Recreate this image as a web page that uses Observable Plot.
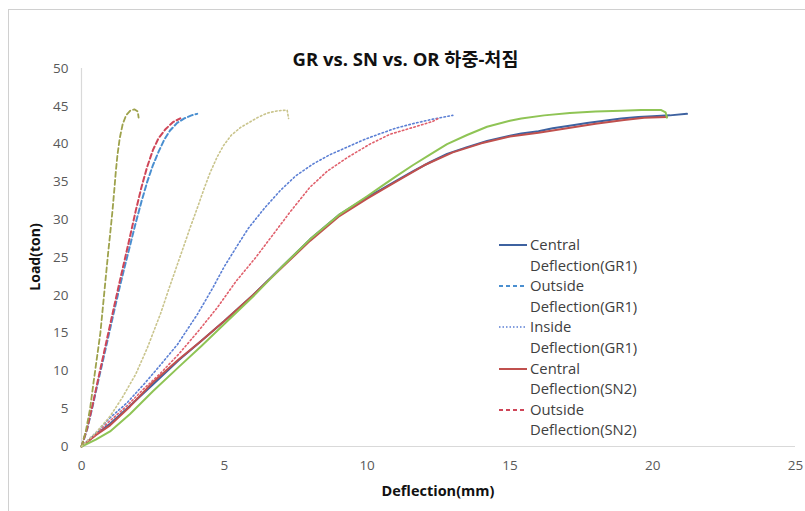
<!DOCTYPE html>
<html>
<head>
<meta charset="utf-8">
<script src="https://cdn.jsdelivr.net/npm/d3@7"></script>
<script src="https://cdn.jsdelivr.net/npm/@observablehq/plot@0.6"></script>
<style>
  html, body { margin: 0; padding: 0; background: #fff; }
  #wrap { position: relative; width: 805px; height: 511px; overflow: hidden; font-family: "Open Sans", "Noto Sans", sans-serif; }
  #frame { position: absolute; left: 8px; top: 9px; width: 830px; height: 540px; border: 1px solid #d0d0d0; }
  #plot { position: absolute; left: 0; top: 0; }
  #title { position: absolute; left: 0; width: 811px; top: 45px; text-align: center; font-family: "Open Sans", "Noto Sans CJK KR", sans-serif; font-weight: bold; font-size: 18.5px; color: #111; }
  #ylab { position: absolute; left: 34px; top: 257px; transform: translate(-50%, -50%) rotate(-90deg); font-weight: bold; font-size: 14px; color: #111; white-space: nowrap; }
  #xlab { position: absolute; left: 438px; top: 481px; transform: translateX(-50%); font-weight: bold; font-size: 14.5px; color: #111; white-space: nowrap; }
  #legend { position: absolute; left: 499px; top: 234px; font-size: 14.8px; color: #404040; line-height: 20.6px; }
  .item { position: relative; padding-left: 31px; }
  .item svg { position: absolute; left: 0; top: 6px; }
</style>
</head>
<body>
<div id="wrap">
  <div id="frame"></div>
  <div id="plot"></div>
  <div id="title">GR vs. SN vs. OR 하중-처짐</div>
  <div id="ylab">Load(ton)</div>
  <div id="xlab">Deflection(mm)</div>
  <div id="legend"></div>
</div>
<script>
// ---- data: [deflection (mm), load (ton)] ----
const centralGR1 = [[0,0],[0.5,1.6],[1,3.0],[1.7,5.4],[2.5,8.2],[3.4,11.4],[4.2,14],[5,16.6],[6,20],[7,23.7],[8,27.4],[9,30.6],[10,33],[10.5,34],[11,35.1],[11.6,36.4],[12.2,37.6],[12.8,38.7],[13.5,39.6],[14.2,40.4],[15,41.1],[15.4,41.4],[16,41.7],[16.5,42.1],[17.2,42.5],[17.7,42.8],[18.3,43.1],[18.9,43.4],[19.5,43.6],[20,43.7],[20.6,43.8],[21.2,44.0]];
const outsideGR1 = [[0,0],[0.2,2.3],[0.4,5.5],[0.6,8.9],[0.85,13],[1.1,17.2],[1.3,20.5],[1.5,23.6],[1.7,26.6],[1.9,29.6],[2.1,32.4],[2.3,35.0],[2.5,37.2],[2.7,39.0],[2.9,40.6],[3.1,41.8],[3.35,42.8],[3.6,43.4],[3.85,43.8],[4.05,44.0]];
const insideGR1 = [[0,0],[0.5,1.8],[1.0,3.8],[1.6,5.8],[2.2,8.3],[2.7,10.5],[3.36,13.5],[4.06,17.5],[4.6,21],[5.0,23.8],[5.46,26.6],[5.85,28.9],[6.4,31.5],[6.97,33.9],[7.5,35.8],[8.12,37.4],[8.7,38.6],[9.3,39.6],[9.9,40.6],[10.47,41.4],[11.0,42.1],[11.6,42.7],[12.3,43.3],[13.0,43.8]];
const centralSN2 = [[0,0],[0.5,1.5],[1,2.8],[1.7,5.3],[2.5,8.5],[3.4,11.5],[4.2,14],[5,16.6],[6,20],[7,23.6],[8,27.2],[9,30.4],[10,32.8],[11,35],[12,37.2],[13,38.9],[14,40.1],[15,41],[16,41.5],[17,42.1],[18,42.7],[19,43.2],[19.7,43.5],[20.5,43.6]];
const outsideSN2 = [[0,0],[0.2,2.4],[0.4,5.7],[0.6,9.2],[0.85,13.5],[1.1,17.8],[1.3,21.2],[1.5,24.5],[1.7,27.8],[1.9,31.2],[2.1,34.3],[2.3,37.0],[2.5,39.2],[2.7,40.8],[2.95,42.0],[3.2,42.9],[3.46,43.4]];
const insideSN2 = [[0,0],[0.5,1.6],[1.0,3.4],[1.6,5.4],[2.2,7.7],[2.77,9.7],[3.4,12.2],[4.1,15.3],[4.76,18.4],[5.4,21.8],[6.1,25],[6.7,28],[7.3,31],[8.0,34.3],[8.6,36.4],[9.3,38.2],[10.1,40],[10.8,41.3],[11.6,42.2],[12.3,43.0],[12.5,43.4]];
const centralOR = [[0,0],[0.5,0.9],[1,2.0],[1.7,4.3],[2.5,7.3],[3.4,10.5],[4.2,13.3],[5,16.2],[6,19.8],[7,23.7],[8,27.4],[9,30.6],[10,33.1],[10.5,34.4],[11,35.7],[11.6,37.2],[12.2,38.6],[12.8,40.0],[13.5,41.2],[14.2,42.3],[15,43.1],[15.4,43.4],[16.2,43.8],[17.1,44.1],[18,44.3],[18.9,44.4],[19.6,44.5],[20.3,44.5],[20.45,44.2],[20.5,43.5]];
const outsideOR = [[0,0],[0.15,2],[0.3,5],[0.43,8.7],[0.55,12],[0.66,15],[0.75,18.5],[0.84,22],[0.93,25.5],[1.0,28],[1.08,31],[1.15,34],[1.2,36.3],[1.26,38.6],[1.34,40.8],[1.44,42.6],[1.56,43.8],[1.7,44.4],[1.85,44.6],[1.97,44.3],[2.0,43.5]];
const insideOR = [[0,0],[0.5,1.8],[1.0,4.0],[1.4,6.3],[1.89,9.5],[2.3,13],[2.77,17.6],[3.1,21.3],[3.47,25.3],[3.8,28.9],[4.06,31.6],[4.3,34.2],[4.5,36.2],[4.75,38.3],[4.97,39.8],[5.25,41.2],[5.57,42.2],[6.16,43.5],[6.5,44.1],[6.86,44.4],[7.2,44.5],[7.25,43.4]];

const xTicks = [0,5,10,15,20,25];
const yTicks = [0,5,10,15,20,25,30,35,40,45,50];
const legendNames = [["Central","Deflection(GR1)"],["Outside","Deflection(GR1)"],["Inside","Deflection(GR1)"],["Central","Deflection(SN2)"],["Outside","Deflection(SN2)"]];

// ---- styles ----
const series = [
  {data: centralGR1, stroke: "#3e62a0", dash: null, w: 2},
  {data: outsideGR1, stroke: "#4a8fd0", dash: "5,3", w: 2},
  {data: insideGR1,  stroke: "#5b7fd4", dash: "1.5,2.5", w: 1.6},
  {data: centralSN2, stroke: "#c0504d", dash: null, w: 2},
  {data: outsideSN2, stroke: "#cf4658", dash: "5,3", w: 2},
  {data: insideSN2,  stroke: "#e0606c", dash: "1.5,2.5", w: 1.6},
  {data: centralOR,  stroke: "#8fc455", dash: null, w: 2},
  {data: outsideOR,  stroke: "#9ea24c", dash: "5,3", w: 1.8},
  {data: insideOR,   stroke: "#c9c48c", dash: "1.5,2.5", w: 1.6}
];

const marks = [
  Plot.ruleY([0], {stroke: "#d9d9d9", strokeWidth: 1.2}),
  Plot.ruleX([0], {stroke: "#d9d9d9", strokeWidth: 1.2}),
  Plot.axisX({ticks: xTicks, tickSize: 0, tickPadding: 14, fill: "#595959", fontSize: 13.5}),
  Plot.axisY({ticks: yTicks, tickSize: 0, tickPadding: 13, fill: "#595959", fontSize: 13.5}),
  ...series.map(s => Plot.line(s.data, {
    x: d => d[0], y: d => d[1], stroke: s.stroke, strokeWidth: s.w,
    strokeDasharray: s.dash, curve: "linear", strokeLinejoin: "round"
  }))
];

const chart = Plot.plot({
  width: 805, height: 511,
  marginLeft: 81, marginRight: 10, marginTop: 68, marginBottom: 65,
  x: {domain: [0, 25], label: null},
  y: {domain: [0, 50], label: null},
  style: {fontFamily: "'Open Sans', sans-serif", fontSize: "13px", background: "transparent", overflow: "visible"},
  marks
});
document.getElementById("plot").appendChild(chart);

// ---- legend ----
const lg = document.getElementById("legend");
legendNames.forEach((nm, i) => {
  const s = series[i];
  const div = document.createElement("div");
  div.className = "item";
  div.innerHTML = `<svg width="28" height="10"><line x1="0" x2="28" y1="5" y2="5" stroke="${s.stroke}" stroke-width="${s.w}" ${s.dash ? `stroke-dasharray="${s.dash === "5,3" ? "4,3" : "1.5,2"}"` : ""}/></svg>${nm[0]}<br>${nm[1]}`;
  lg.appendChild(div);
});
</script>
</body>
</html>
